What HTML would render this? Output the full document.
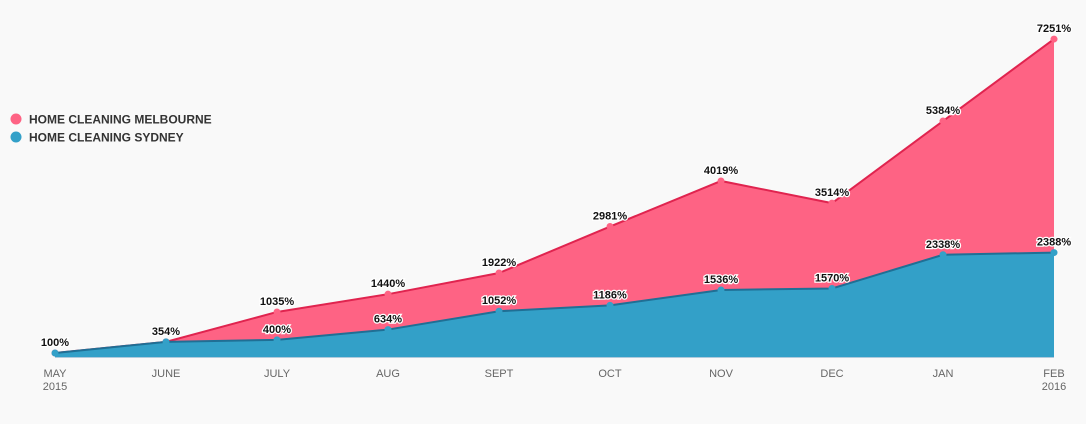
<!DOCTYPE html>
<html><head><meta charset="utf-8"><style>
body{margin:0;background:#f9f9f9;font-family:"Liberation Sans",sans-serif}
</style></head><body>
<svg width="1086" height="419" xmlns="http://www.w3.org/2000/svg">
<rect width="1086" height="419" fill="#f9f9f9"/>
<g id="areas"></g><g id="labels"></g><g id="xaxis"></g>
<g font-size="12" font-weight="bold" fill="#333">
<g><circle cx="16" cy="119" r="5.5" fill="#fe6384"/><text x="29" y="123.5">HOME CLEANING MELBOURNE</text></g>
<g><circle cx="16" cy="137" r="5.5" fill="#33a0c8"/><text x="29" y="141.5">HOME CLEANING SYDNEY</text></g>
</g>
</svg>
<script>
const months=["MAY","JUNE","JULY","AUG","SEPT","OCT","NOV","DEC","JAN","FEB"];
const years=["2015","","","","","","","","","2016"];
const melbourne=[100,354,1035,1440,1922,2981,4019,3514,5384,7251];
const sydney=[100,354,400,634,1052,1186,1536,1570,2338,2388];
const NS="http://www.w3.org/2000/svg";
const x0=55,x1=1054,yBase=357.4,yScale=0.0439;
const X=i=>x0+i*(x1-x0)/(months.length-1);
const Y=v=>yBase-v*yScale;
function mk(t,a,p){const e=document.createElementNS(NS,t);for(const k in a)e.setAttribute(k,a[k]);p.appendChild(e);return e;}
const areas=document.getElementById('areas'),labels=document.getElementById('labels'),xa=document.getElementById('xaxis');
function series(vals,fill,stroke,name,showLabels,skip){
  let pts=vals.map((v,i)=>X(i)+","+Y(v)).join(" L");
  const a=mk('path',{d:"M"+X(0)+","+yBase+" L"+pts+" L"+X(vals.length-1)+","+yBase+" Z",fill:fill},areas);
  
  
  const l=mk('path',{d:"M"+pts,fill:"none",stroke:stroke,"stroke-width":2},areas);
  
  
  vals.forEach((v,i)=>{
    const c=mk('circle',{cx:X(i),cy:Y(v),r:3.5,fill:fill},areas);
    
    
    if(skip.includes(i))return;
    const t=mk('text',{x:X(i),y:Y(v)-7,"text-anchor":"middle","font-size":11,"font-weight":"bold",fill:"#111",stroke:"#fff","stroke-width":2.5,"paint-order":"stroke"},labels);
    t.textContent=v+"%";
    
    
  });
}
series(melbourne,"#fe6384","#e0244f","melbourne",true,[]);
series(sydney,"#33a0c8","#1f6f95","sydney",true,[0,1]);
months.forEach((m,i)=>{
  const t=mk('text',{x:X(i),y:377,"text-anchor":"middle","font-size":11,fill:"#666"},xa);
  t.textContent=m;
  
  
  if(years[i]){const y=mk('text',{x:X(i),y:390,"text-anchor":"middle","font-size":11,fill:"#666"},xa);y.textContent=years[i];
  
  }
});
</script>
</body></html>
